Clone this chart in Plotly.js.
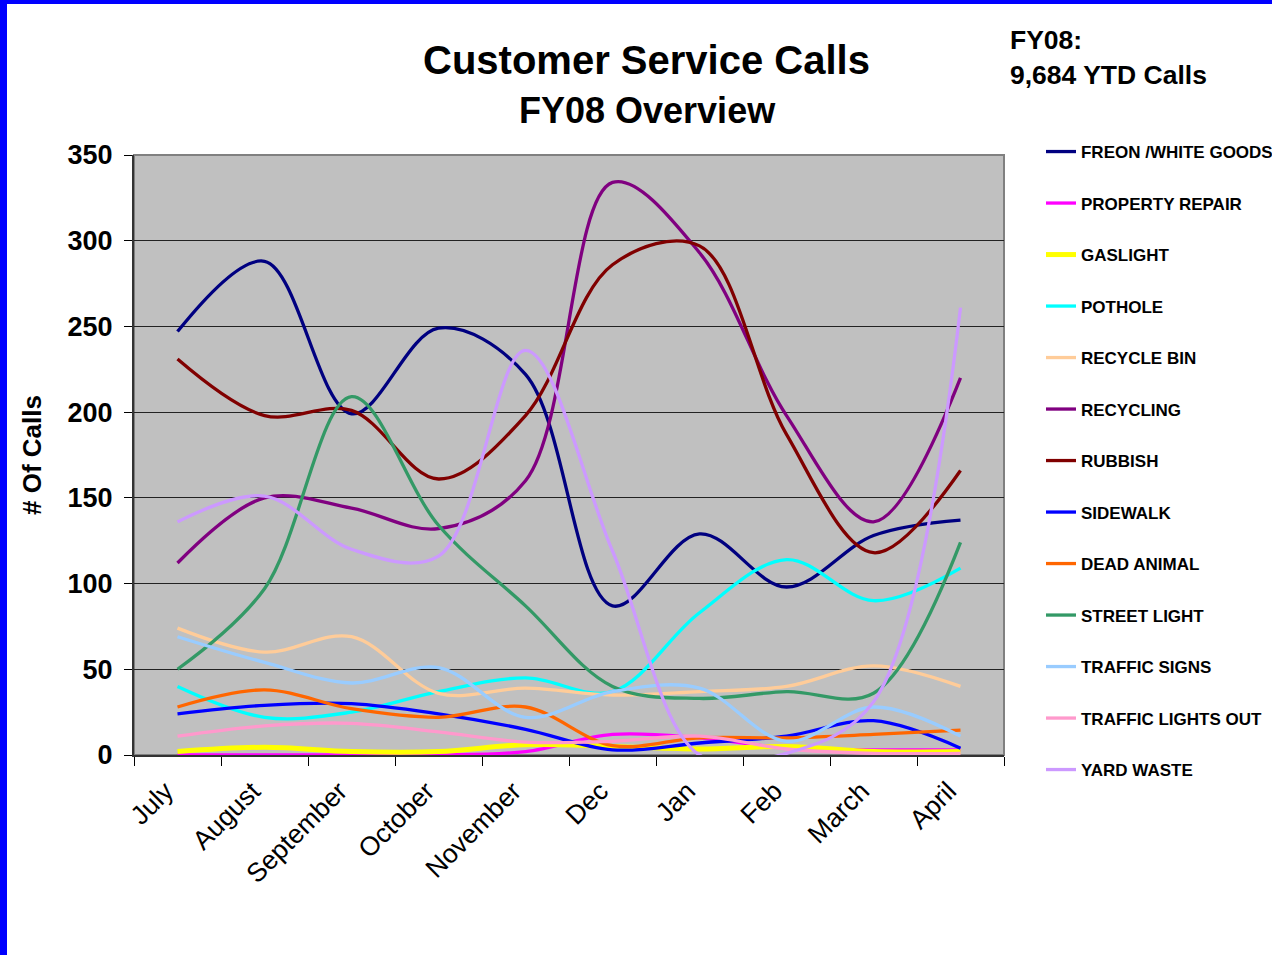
<!DOCTYPE html>
<html>
<head>
<meta charset="utf-8">
<script src="https://cdn.plot.ly/plotly-3.0.1.min.js"></script>
<style>
  html, body { margin: 0; padding: 0; background: #ffffff; }
  #frame { position: absolute; left: 0; top: 0; width: 1272px; height: 955px; box-sizing: border-box;
           border-top: 4px solid #0000FF; border-left: 7px solid #0000FF; background: #ffffff; overflow: hidden; }
  #chart { width: 1265px; height: 951px; }
</style>
</head>
<body>
<div id="frame"><div id="chart"></div></div>
<script>
// ---- data ----
const months = ['July', 'August', 'September', 'October', 'November', 'Dec', 'Jan', 'Feb', 'March', 'April'];

const freonWhiteGoods  = [247, 288, 199, 249, 222, 87, 129, 98, 128, 137];
const propertyRepair   = [0, 0, 0, 0, 2, 12, 10, 4, 3, 3];
const gaslight         = [2, 4.5, 2, 2, 6, 5, 3.5, 5, 2, 2];
const pothole          = [40, 22, 25, 37, 45, 37, 83, 114, 90, 109];
const recycleBin       = [74, 60, 69, 36, 39, 35, 37, 40, 52, 40];
const recycling        = [112, 150, 144, 132, 160, 334, 293, 198, 136, 220];
const rubbish          = [231, 198, 201, 161, 198, 286, 297, 187, 118, 166];
const sidewalk         = [24, 29, 30, 24, 15, 3, 7, 11, 20, 4];
const deadAnimal       = [28, 38, 27, 22, 28, 5.5, 10, 10, 12, 14.5];
const streetLight      = [50, 97, 209, 134, 87, 40, 33, 37, 36, 124];
const trafficSigns     = [69, 54, 42, 51, 22, 37, 39, 8, 28, 11];
const trafficLightsOut = [11, 17, 18.5, 13.5, 7.5, 8, 11, 3.5, 1, 1];
const yardWaste        = [136, 151, 120, 116, 236, 119, 0, 1, 31, 261];

const seriesNames = ['FREON /WHITE GOODS', 'PROPERTY REPAIR', 'GASLIGHT', 'POTHOLE', 'RECYCLE BIN',
  'RECYCLING', 'RUBBISH', 'SIDEWALK', 'DEAD ANIMAL', 'STREET LIGHT', 'TRAFFIC SIGNS',
  'TRAFFIC LIGHTS OUT', 'YARD WASTE'];
const seriesValues = [freonWhiteGoods, propertyRepair, gaslight, pothole, recycleBin, recycling,
  rubbish, sidewalk, deadAnimal, streetLight, trafficSigns, trafficLightsOut, yardWaste];
const seriesColors = ['#000080', '#FF00FF', '#FFFF00', '#00FFFF', '#FFCC99', '#800080', '#800000',
  '#0000FF', '#FF6600', '#339966', '#99CCFF', '#FF99CC', '#CC99FF'];
const seriesWidths = [3.3, 3.3, 5, 3.3, 3.3, 3.3, 3.3, 3.3, 3.3, 3.3, 3.3, 3.3, 3.3];

const FONT = 'Liberation Sans, Arial, Helvetica, sans-serif';

const traces = seriesNames.map((name, i) => ({
  type: 'scatter',
  mode: 'lines',
  name: name,
  legendgroup: 'g' + i,
  x: months,
  y: seriesValues[i],
  line: { color: seriesColors[i], width: seriesWidths[i], shape: 'spline', smoothing: 1 },
  hoverinfo: 'x+y+name'
}));

const layout = {
  width: 1265,
  height: 951,
  paper_bgcolor: '#ffffff',
  plot_bgcolor: '#C0C0C0',
  margin: { l: 127, r: 268, t: 151, b: 200, autoexpand: false },
  showlegend: true,
  font: { family: FONT, color: '#000000' },
  title: {
    text: 'Customer Service Calls',
    font: { family: FONT, size: 40, weight: 'bold', color: '#000000' },
    xref: 'container', x: 0.5055, xanchor: 'center',
    yref: 'container', y: 0.9416, yanchor: 'middle'
  },
  xaxis: {
    type: 'category',
    range: [-0.5, 9.5],
    tickson: 'boundaries',
    ticks: 'outside',
    ticklen: 9,
    tickwidth: 1,
    tickcolor: '#000000',
    tickangle: -45,
    ticklabelstandoff: 8,
    ticklabelshift: -12,
    tickfont: { family: FONT, size: 26.5, color: '#000000' },
    showgrid: false,
    showline: true,
    linecolor: '#333333',
    linewidth: 2,
    zeroline: false,
    fixedrange: true
  },
  yaxis: {
    range: [0, 350],
    dtick: 50,
    ticks: 'outside',
    ticklen: 8,
    tickwidth: 1,
    tickcolor: '#000000',
    ticklabelstandoff: 6,
    tickfont: { family: FONT, size: 27, weight: 'bold', color: '#000000' },
    showgrid: true,
    gridcolor: '#222222',
    gridwidth: 1,
    showline: true,
    linecolor: '#333333',
    linewidth: 2,
    zeroline: false,
    fixedrange: true,
    title: { text: '# Of Calls', font: { family: FONT, size: 26, weight: 'bold', color: '#000000' }, standoff: 18 }
  },
  legend: {
    x: 1.0425, xanchor: 'left',
    y: 1.035, yanchor: 'top',
    bgcolor: 'rgba(0,0,0,0)',
    borderwidth: 0,
    tracegroupgap: 26.4,
    maxheight: 900,
    font: { family: FONT, size: 17, weight: 'bold', color: '#000000' }
  },
  shapes: [
    { type: 'rect', xref: 'paper', yref: 'paper', x0: 0, x1: 1, y0: 0, y1: 1,
      line: { color: '#808080', width: 2 }, fillcolor: 'rgba(0,0,0,0)', layer: 'below' }
  ],
  annotations: [
    { text: 'FY08 Overview', xref: 'paper', yref: 'paper', x: 0.5908, y: 1.075,
      xanchor: 'center', yanchor: 'middle', showarrow: false,
      font: { family: FONT, size: 36, weight: 'bold', color: '#000000' } },
    { text: 'FY08:', xref: 'paper', yref: 'paper', x: 1.0045, y: 1.1917,
      xanchor: 'left', yanchor: 'middle', showarrow: false,
      font: { family: FONT, size: 26.5, weight: 'bold', color: '#000000' } },
    { text: '9,684 YTD Calls', xref: 'paper', yref: 'paper', x: 1.0045, y: 1.1333,
      xanchor: 'left', yanchor: 'middle', showarrow: false,
      font: { family: FONT, size: 26.5, weight: 'bold', color: '#000000' } }
  ]
};

Plotly.newPlot('chart', traces, layout, { displayModeBar: false, staticPlot: true });
</script>
</body>
</html>
